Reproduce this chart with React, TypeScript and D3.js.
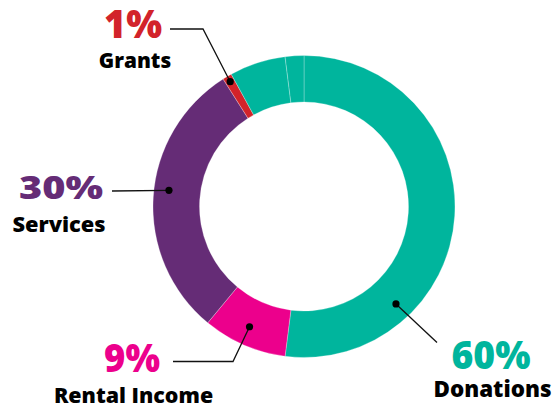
import * as d3 from 'd3';
import React, { useRef, useEffect } from 'react';

const width = 556;
const height = 404;

// slices clockwise from 12 o'clock (donations come in three pieces)
const sliceLabels = ['Donations', 'Rental Income', 'Services', 'Grants', 'Donations', 'Donations'];
const sliceValues = [52, 9, 30, 1, 6, 2];

const categories = ['Grants', 'Services', 'Rental Income', 'Donations'];
const categoryColors = ['#d2232a', '#652c76', '#ec008c', '#00b59d'];

// where each label sits and which slice its leader points into
const labelLayout = {
    'Grants': { x: 133, pctY: 38, nameY: 67.5, pctSize: 38, pctLen: 58, nameSize: 20.8, nameDx: 2, slice: 3, frac: 0.5, dotR: 145, elbow: [[170, 29], [203, 29]] },
    'Services': { x: 61, pctY: 198.5, nameY: 231.5, pctSize: 32, pctLen: 84, nameSize: 21.8, nameDx: -2, slice: 2, frac: 0.53, dotR: 136, elbow: [[112, 191]] },
    'Rental Income': { x: 132, pctY: 372, nameY: 402.5, pctSize: 39, pctLen: 56, nameSize: 21.4, nameDx: 1.5, slice: 1, frac: 0.53, dotR: 132, elbow: [[173, 361.5], [233, 361.5]] },
    'Donations': { x: 491, pctY: 368.5, nameY: 396.5, pctSize: 39, pctLen: 79, nameSize: 22.4, nameDx: 1.5, slice: 0, frac: 0.73, dotR: 134, elbow: [[437, 342.5]] },
};

const cx = 304;
const cy = 206.5;
const outerR = 151;
const innerR = 104.5;

function DonutChart() {
    const ref = useRef<SVGSVGElement>(null);

    useEffect(() => {
        const svg = d3.select(ref.current);
        svg.selectAll('*').remove();

        const color = d3.scaleOrdinal<string, string>().domain(categories).range(categoryColors);

        const pie = d3.pie<number>().sort(null).value(d => d);
        const arcs = pie(sliceValues);
        const arc = d3.arc<d3.PieArcDatum<number>>().innerRadius(innerR).outerRadius(outerR);

        const g = svg.append('g').attr('transform', 'translate(' + cx + ',' + cy + ')');

        g.selectAll('path')
            .data(arcs)
            .enter()
            .append('path')
            .attr('d', arc)
            .attr('fill', (d, i) => color(sliceLabels[i]))
            .attr('stroke', 'rgba(255,255,255,0.45)')
            .attr('stroke-width', 0.6);

        // totals per category
        const totals = d3.rollup(sliceLabels.map((l, i) => ({ l, v: sliceValues[i] })), v => d3.sum(v, d => d.v), d => d.l);

        categories.forEach(cat => {
            const lay = labelLayout[cat];
            const a = arcs[lay.slice];
            const ang = a.startAngle + (a.endAngle - a.startAngle) * lay.frac;
            const dot: [number, number] = [cx + lay.dotR * Math.sin(ang), cy - lay.dotR * Math.cos(ang)];

            const pts = [...lay.elbow, dot];
            svg.append('path')
                .attr('d', d3.line()(pts as [number, number][]))
                .attr('fill', 'none')
                .attr('stroke', '#111')
                .attr('stroke-width', 1.3);

            svg.append('circle')
                .attr('cx', dot[0])
                .attr('cy', dot[1])
                .attr('r', 3.6)
                .attr('fill', '#000');

            svg.append('text')
                .attr('x', lay.x)
                .attr('y', lay.pctY)
                .attr('text-anchor', 'middle')
                .attr('font-family', "'Open Sans', sans-serif")
                .attr('font-weight', 800)
                .attr('font-size', lay.pctSize)
                .attr('textLength', lay.pctLen)
                .attr('lengthAdjust', 'spacingAndGlyphs')
                .attr('fill', color(cat))
                .text(totals.get(cat) + '%');

            svg.append('text')
                .attr('x', lay.x + lay.nameDx)
                .attr('y', lay.nameY)
                .attr('text-anchor', 'middle')
                .attr('font-family', "'Open Sans', sans-serif")
                .attr('font-weight', 800)
                .attr('font-size', lay.nameSize)
                .attr('fill', '#000')
                .text(cat);
        });
    }, []);

    return (
        <svg ref={ref} width={width} height={height}
            style={{ position: 'absolute', left: 0, top: 0, background: '#fff' }} />
    );
}

export default function App() {
    return <DonutChart />;
}
